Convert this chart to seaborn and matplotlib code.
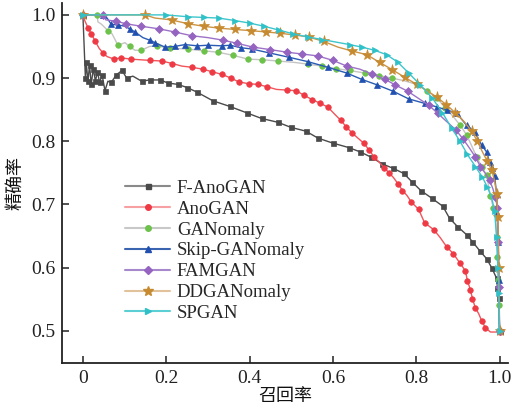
import matplotlib
matplotlib.use("Agg")
import matplotlib.pyplot as plt
import seaborn as sns
import pandas as pd
from matplotlib.lines import Line2D

# Precision-recall curves per model
fanogan_rec = [0, 0.006, 0.008, 0.012, 0.016, 0.020, 0.025, 0.030, 0.035, 0.040, 0.046, 0.053, 0.060,
               0.068, 0.080, 0.094, 0.105, 0.120, 0.141, 0.160, 0.185, 0.205, 0.228, 0.250, 0.273, 0.312,
               0.353, 0.393, 0.429, 0.468, 0.499, 0.535, 0.564, 0.600, 0.638, 0.666, 0.691, 0.719, 0.745,
               0.770, 0.791, 0.811, 0.837, 0.864, 0.880, 0.899, 0.921, 0.935, 0.952, 0.969, 0.981, 0.993,
               0.995, 0.998, 1.0]
fanogan_prec = [1.0, 0.90, 0.925, 0.895, 0.92, 0.89, 0.915, 0.895, 0.91, 0.893, 0.905, 0.88, 0.895,
                0.893, 0.905, 0.912, 0.900, 0.903, 0.895, 0.897, 0.897, 0.892, 0.890, 0.885, 0.878, 0.864,
                0.855, 0.845, 0.836, 0.830, 0.822, 0.816, 0.805, 0.797, 0.790, 0.783, 0.775, 0.764, 0.757,
                0.749, 0.735, 0.722, 0.710, 0.697, 0.678, 0.665, 0.652, 0.641, 0.627, 0.614, 0.600, 0.583,
                0.568, 0.552, 0.50]

anogan_rec = [0, 0.005, 0.012, 0.020, 0.030, 0.039, 0.048, 0.058, 0.075, 0.091, 0.115, 0.137, 0.160,
              0.189, 0.215, 0.237, 0.262, 0.288, 0.310, 0.333, 0.355, 0.374, 0.398, 0.420, 0.443, 0.465,
              0.490, 0.512, 0.530, 0.550, 0.570, 0.588, 0.604, 0.619, 0.632, 0.646, 0.660, 0.674, 0.687,
              0.699, 0.711, 0.723, 0.735, 0.746, 0.757, 0.767, 0.778, 0.788, 0.806, 0.820, 0.842, 0.857,
              0.873, 0.889, 0.904, 0.918, 0.923, 0.930, 0.935, 0.942, 0.950, 0.957, 0.966, 0.978, 1.0]
anogan_prec = [1.0, 0.99, 0.98, 0.970, 0.958, 0.947, 0.940, 0.934, 0.930, 0.932, 0.930, 0.929, 0.928,
               0.927, 0.923, 0.919, 0.917, 0.914, 0.910, 0.906, 0.900, 0.894, 0.891, 0.890, 0.886, 0.882,
               0.881, 0.880, 0.873, 0.866, 0.860, 0.854, 0.843, 0.833, 0.823, 0.813, 0.805, 0.797, 0.786,
               0.775, 0.767, 0.758, 0.750, 0.742, 0.732, 0.722, 0.714, 0.704, 0.692, 0.671, 0.660, 0.648,
               0.633, 0.622, 0.608, 0.595, 0.579, 0.565, 0.551, 0.536, 0.527, 0.516, 0.505, 0.498, 0.498]

ganomaly_rec = [0, 0.034, 0.036, 0.045, 0.060, 0.070, 0.084, 0.101, 0.112, 0.125, 0.140, 0.160, 0.177,
                0.210, 0.252, 0.290, 0.324, 0.360, 0.396, 0.430, 0.468, 0.505, 0.540, 0.575, 0.607, 0.640,
                0.676, 0.710, 0.741, 0.770, 0.801, 0.826, 0.850, 0.870, 0.890, 0.906, 0.921, 0.933, 0.945,
                0.957, 0.969, 0.978, 0.985, 0.991, 0.993, 0.995, 0.997, 0.998, 1.0]
ganomaly_prec = [1.0, 1.0, 0.989, 0.985, 0.975, 0.970, 0.952, 0.956, 0.950, 0.944, 0.944, 0.950, 0.951,
                 0.947, 0.946, 0.943, 0.941, 0.936, 0.930, 0.929, 0.927, 0.925, 0.922, 0.919, 0.915, 0.912,
                 0.908, 0.904, 0.900, 0.896, 0.890, 0.880, 0.868, 0.853, 0.838, 0.825, 0.810, 0.793, 0.775,
                 0.760, 0.746, 0.714, 0.695, 0.679, 0.648, 0.616, 0.580, 0.540, 0.50]

skip_rec = [0, 0.048, 0.058, 0.068, 0.085, 0.101, 0.112, 0.125, 0.144, 0.160, 0.173, 0.197, 0.220,
            0.245, 0.275, 0.300, 0.333, 0.353, 0.380, 0.405, 0.446, 0.494, 0.540, 0.588, 0.633, 0.669,
            0.707, 0.745, 0.782, 0.820, 0.851, 0.875, 0.897, 0.921, 0.940, 0.957, 0.969, 0.976, 0.983,
            0.988, 0.993, 0.995, 0.997, 0.998, 1.0]
skip_prec = [1.0, 1.0, 0.995, 0.985, 0.984, 0.982, 0.978, 0.973, 0.964, 0.960, 0.956, 0.949, 0.950,
             0.953, 0.951, 0.952, 0.951, 0.952, 0.948, 0.946, 0.940, 0.933, 0.926, 0.917, 0.908, 0.898,
             0.889, 0.879, 0.867, 0.860, 0.854, 0.849, 0.845, 0.825, 0.815, 0.794, 0.783, 0.767, 0.757,
             0.745, 0.717, 0.686, 0.640, 0.580, 0.50]

famgan_rec = [0, 0.048, 0.055, 0.080, 0.103, 0.140, 0.182, 0.220, 0.261, 0.300, 0.336, 0.370, 0.408,
              0.450, 0.489, 0.527, 0.564, 0.600, 0.633, 0.665, 0.695, 0.725, 0.750, 0.780, 0.805, 0.830,
              0.852, 0.875, 0.895, 0.912, 0.928, 0.942, 0.954, 0.966, 0.976, 0.984, 0.990, 0.995, 0.997,
              0.999, 1.0]
famgan_prec = [1.0, 1.0, 0.992, 0.990, 0.986, 0.982, 0.978, 0.973, 0.967, 0.964, 0.960, 0.955, 0.949,
               0.945, 0.941, 0.938, 0.935, 0.928, 0.919, 0.914, 0.906, 0.898, 0.889, 0.879, 0.868, 0.857,
               0.844, 0.830, 0.818, 0.804, 0.789, 0.775, 0.760, 0.749, 0.738, 0.725, 0.711, 0.695, 0.640,
               0.570, 0.50]

ddgan_rec = [0, 0.149, 0.173, 0.213, 0.252, 0.290, 0.326, 0.365, 0.403, 0.440, 0.472, 0.510, 0.542,
             0.578, 0.612, 0.645, 0.681, 0.712, 0.743, 0.773, 0.801, 0.826, 0.849, 0.872, 0.894, 0.915,
             0.933, 0.947, 0.959, 0.971, 0.981, 0.988, 0.993, 0.996, 0.998, 1.0]
ddgan_prec = [1.0, 1.0, 0.995, 0.992, 0.986, 0.982, 0.979, 0.977, 0.975, 0.973, 0.971, 0.968, 0.965,
              0.958, 0.949, 0.943, 0.937, 0.925, 0.913, 0.901, 0.890, 0.880, 0.870, 0.858, 0.845, 0.831,
              0.816, 0.800, 0.783, 0.768, 0.754, 0.738, 0.717, 0.680, 0.600, 0.50]

spgan_rec = [0, 0.200, 0.252, 0.290, 0.326, 0.365, 0.400, 0.435, 0.470, 0.505, 0.540, 0.575, 0.607,
             0.640, 0.669, 0.700, 0.729, 0.756, 0.782, 0.810, 0.839, 0.863, 0.885, 0.905, 0.923, 0.942,
             0.959, 0.971, 0.981, 0.988, 0.993, 0.996, 0.998, 1.0]
spgan_prec = [1.0, 1.0, 0.997, 0.996, 0.995, 0.991, 0.987, 0.982, 0.976, 0.970, 0.965, 0.961, 0.957,
              0.953, 0.949, 0.944, 0.937, 0.925, 0.908, 0.889, 0.868, 0.845, 0.821, 0.800, 0.779, 0.760,
              0.743, 0.727, 0.711, 0.690, 0.648, 0.600, 0.560, 0.50]

model_names = ["F-AnoGAN", "AnoGAN", "GANomaly", "Skip-GANomaly", "FAMGAN", "DDGANomaly", "SPGAN"]
curves = [(fanogan_rec, fanogan_prec), (anogan_rec, anogan_prec), (ganomaly_rec, ganomaly_prec),
          (skip_rec, skip_prec), (famgan_rec, famgan_prec), (ddgan_rec, ddgan_prec),
          (spgan_rec, spgan_prec)]

x_ticks = [0, 0.2, 0.4, 0.6, 0.8, 1.0]
y_ticks = [0.5, 0.6, 0.7, 0.8, 0.9, 1.0]

# style: (line colour, marker colour, marker, marker size, marker spacing)
styles = {
    "F-AnoGAN": ("#4a4a4a", "#4a4a4a", "s", 3.6, 0.016),
    "AnoGAN": ("#f2545c", "#ee3a44", "o", 4.0, 0.019),
    "GANomaly": ("#c4c4c4", "#6cc24a", "o", 4.0, 0.028),
    "Skip-GANomaly": ("#2a5cb4", "#2250b0", "^", 4.5, 0.018),
    "FAMGAN": ("#9c72c8", "#9563c0", "D", 3.6, 0.030),
    "DDGANomaly": ("#cc9444", "#c68a30", "*", 8.0, 0.029),
    "SPGAN": ("#3cc6cc", "#2fc0c8", ">", 4.5, 0.027),
}
legend_line = {
    "F-AnoGAN": "#8a8a8a", "AnoGAN": "#f7a0a4", "GANomaly": "#c8c8c8",
    "Skip-GANomaly": "#3a64b0", "FAMGAN": "#a688cc", "DDGANomaly": "#e2c29a", "SPGAN": "#5ccfd4",
}

frames = []
for name, (r, p) in zip(model_names, curves):
    frames.append(pd.DataFrame({"recall": r, "precision": p, "model": name}))
data = pd.concat(frames, ignore_index=True)

sns.set_theme(style="ticks")
plt.rcParams["font.family"] = ["Liberation Serif", "Noto Sans CJK SC"]
plt.rcParams["axes.unicode_minus"] = False

fig = plt.figure(figsize=(5.13, 4.12), dpi=100)
ax = fig.add_axes([0.121, 0.119, 0.869, 0.874])

for name in model_names:
    lc, mc, mk, ms, every = styles[name]
    sub = data[data["model"] == name]
    sns.lineplot(data=sub, x="recall", y="precision", ax=ax, sort=False, estimator=None,
                 color=lc, linewidth=1.0, marker=mk, markersize=ms, markevery=every,
                 markerfacecolor=mc, markeredgecolor=mc, markeredgewidth=0.5, legend=False)

ax.set_xlim(-0.05, 1.02)
ax.set_ylim(0.449, 1.019)
ax.set_xticks(x_ticks)
ax.set_xticklabels(["0", "0.2", "0.4", "0.6", "0.8", "1.0"])
ax.set_yticks(y_ticks)
ax.set_yticklabels([f"{v:.1f}" for v in y_ticks])
ax.tick_params(direction="in", length=5, width=1.1, labelsize=14, colors="#222222", pad=5)
for side in ["top", "right"]:
    ax.spines[side].set_visible(False)
for side in ["left", "bottom"]:
    ax.spines[side].set_linewidth(1.3)
    ax.spines[side].set_color("#222222")

ax.set_xlabel("召回率", fontsize=13, labelpad=1, color="#111111")
ax.set_ylabel("精确率", fontsize=13, labelpad=5, color="#111111")

handles = []
for name in model_names:
    lc, mc, mk, ms, every = styles[name]
    handles.append(Line2D([0], [0], color=legend_line[name], linewidth=1.5, marker=mk,
                          markersize=ms if mk != "*" else 7, markerfacecolor=mc, markeredgecolor=mc))
ax.legend(handles, model_names, loc="upper left", bbox_to_anchor=(0.125, 0.53), frameon=False,
          fontsize=13.5, handlelength=2.4, handletextpad=0.35, labelspacing=0.2, borderaxespad=0)

fig.savefig("out.png", dpi=100)
